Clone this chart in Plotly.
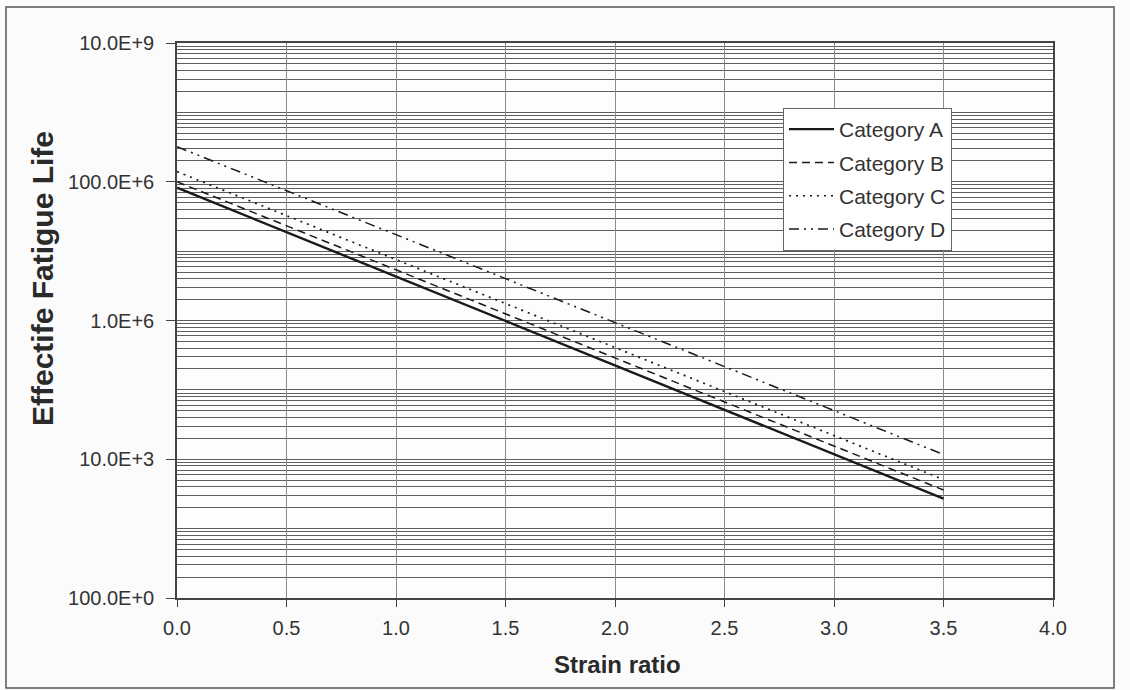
import plotly.graph_objects as go

# ---- data ----
strain_ratio = [0.0, 3.5]
category_names = ["Category A", "Category B", "Category C", "Category D"]
life_A = [8.2e7, 2.7e3]
life_B = [1.0e8, 3.6e3]
life_C = [1.4e8, 5.1e3]
life_D = [3.2e8, 1.17e4]
series_values = [life_A, life_B, life_C, life_D]
dash_styles = ["solid", "8px,5px", "2px,5px", "10px,5px,2px,5px,2px,5px"]
line_widths = [2.4, 1.5, 1.7, 1.5]

y_tick_vals = [1e2, 1e4, 1e6, 1e8, 1e10]
y_tick_text = ["100.0E+0", "10.0E+3", "1.0E+6", "100.0E+6", "10.0E+9"]
x_tick_vals = [0.0, 0.5, 1.0, 1.5, 2.0, 2.5, 3.0, 3.5, 4.0]
x_tick_text = ["0.0", "0.5", "1.0", "1.5", "2.0", "2.5", "3.0", "3.5", "4.0"]

minor_vals = [m * 10 ** e for e in range(2, 10) for m in range(1, 10)
              if not (m == 1 and e % 2 == 0)]

W, H = 1130, 690
L, R, T, B = 177, 1053, 43, 598

def px(xp):
    return (xp - L) / (R - L)

def py(yp):
    return (B - yp) / (B - T)

fig = go.Figure()
for i, (name, vals) in enumerate(zip(category_names, series_values)):
    fig.add_trace(go.Scatter(
        x=strain_ratio, y=vals, mode="lines", name=name,
        legendgroup=name,
        line=dict(color="#1a1a1a", width=line_widths[i], dash=dash_styles[i]),
    ))

font_fam = "Liberation Sans, Arial, sans-serif"
grid_col = "#5e5e5e"

fig.update_layout(
    width=W, height=H,
    margin=dict(l=L, r=W - R, t=T, b=H - B, autoexpand=False),
    paper_bgcolor="#fbfbfb",
    plot_bgcolor="#fdfdfd",
    font=dict(family=font_fam, size=20, color="#333333"),
    showlegend=True,
    legend=dict(
        x=px(783), y=py(108), xanchor="left", yanchor="top",
        bgcolor="#ffffff", bordercolor="#666666", borderwidth=1,
        font=dict(size=21, color="#333333", family=font_fam),
        tracegroupgap=3, traceorder="grouped",
        itemwidth=45,
    ),
    xaxis=dict(
        range=[0, 4], tickmode="array", tickvals=x_tick_vals, ticktext=x_tick_text,
        showgrid=True, gridcolor="#8a8a8a", gridwidth=1,
        showline=True, linecolor="#444444", linewidth=1.5, mirror=True,
        ticks="outside", ticklen=7, tickcolor="#444444",
        zeroline=False, tickfont=dict(size=20),
        ticklabelstandoff=4,
    ),
    yaxis=dict(
        type="log", range=[2, 10], tickmode="array",
        tickvals=y_tick_vals, ticktext=y_tick_text,
        showgrid=True, gridcolor=grid_col, gridwidth=1,
        showline=True, linecolor="#444444", linewidth=1.5, mirror=True,
        ticks="outside", ticklen=9, tickcolor="#444444",
        zeroline=False, tickfont=dict(size=20),
        ticklabelstandoff=8,
        minor=dict(tickmode="array", tickvals=minor_vals, showgrid=True,
                   gridcolor=grid_col, gridwidth=1, ticks=""),
    ),
    annotations=[
        dict(text="<b>Strain ratio</b>", xref="paper", yref="paper",
             x=px(617), y=py(664), xanchor="center", yanchor="middle",
             showarrow=False,
             font=dict(size=24, color="#2a2a2a", family=font_fam)),
        dict(text="<b>Effectife Fatigue Life</b>", xref="paper", yref="paper",
             x=px(42), y=py(279), xanchor="center", yanchor="middle",
             showarrow=False, textangle=-90,
             font=dict(size=30, color="#2a2a2a", family=font_fam)),
    ],
    shapes=[
        dict(type="rect", xref="paper", yref="paper",
             x0=px(6), x1=px(1114), y0=py(688), y1=py(7),
             line=dict(color="#555555", width=1.5), layer="below"),
    ],
)

fig.write_html("out.html", config={"displayModeBar": False},
               post_script="document.body.style.margin='0px';")
